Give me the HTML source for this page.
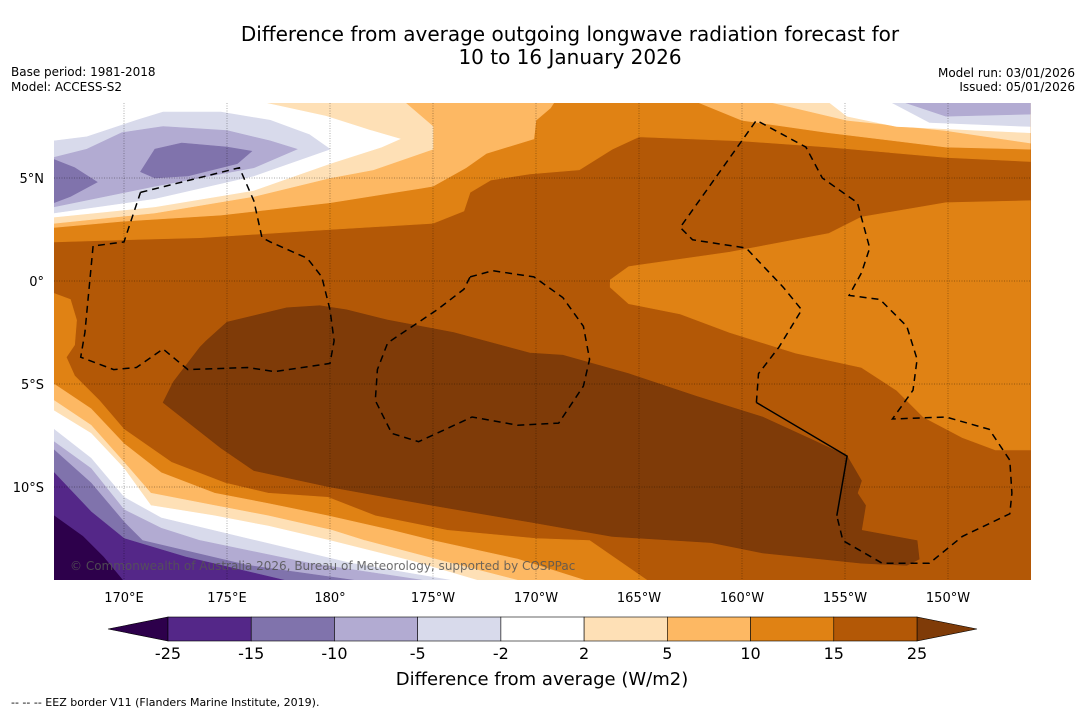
<!DOCTYPE html>
<html><head><meta charset="utf-8"><style>
body{margin:0;background:#fff;}
svg{display:block;font-family:"DejaVu Sans","Liberation Sans",sans-serif;}
</style></head><body>
<svg id="chart" width="1085" height="713" viewBox="0 0 1085 713">
<text x="570" y="41" text-anchor="middle" font-size="20" fill="#000">Difference from average outgoing longwave radiation forecast for</text>
<text x="570" y="64" text-anchor="middle" font-size="20" fill="#000">10 to 16 January 2026</text>
<text x="11" y="76" font-size="12">Base period: 1981-2018</text>
<text x="11" y="91" font-size="12">Model: ACCESS-S2</text>
<text x="1075" y="77" font-size="12" text-anchor="end">Model run: 03/01/2026</text>
<text x="1075" y="91" font-size="12" text-anchor="end">Issued: 05/01/2026</text>
<defs><clipPath id="mapclip"><rect x="54" y="103" width="977" height="477"/></clipPath></defs>
<g id="map" clip-path="url(#mapclip)"></g>
<g id="axes"></g>
<g id="cbar"></g>
<text x="542" y="685" text-anchor="middle" font-size="18">Difference from average (W/m2)</text>
<text x="11" y="706" font-size="11">--  --  -- EEZ border V11 (Flanders Marine Institute, 2019).</text>
</svg>
<script>
// ---- data (lon in degrees east 0-360, lat in degrees) ----
const lonTicks = [170,175,180,185,190,195,200,205,210];
const lonTickLabels = ["170°E","175°E","180°","175°W","170°W","165°W","160°W","155°W","150°W"];
const latTicks = [5,0,-5,-10];
const latTickLabels = ["5°N","0°","5°S","10°S"];
const levels = ["-25","-15","-10","-5","-2","2","5","10","15","25"];
const bandColors = ["#542788","#8073ac","#b2abd2","#d8daeb","#ffffff","#fee0b6","#fdb863","#e08214","#b35806"];
const lowColor = "#2d004b", highColor = "#7f3b08";

const topOrange = [[166.6,1.9],[170.0,2.0],[173.7,2.1],[180.0,2.5],[185.0,2.8],[186.5,3.4],[186.8,4.3],[187.8,4.9],[189.7,5.2],[192.1,5.4],[193.7,6.4],[195.0,7.0],[200.0,6.8],[204.2,6.5],[209.9,6.0],[214.0,5.8],[214.0,8.7],[166.6,8.7]];
const left5to10 = [[166.6,2.6],[169.9,2.9],[174.7,3.2],[180.0,3.8],[184.4,4.5],[185.0,4.6],[186.6,5.5],[187.6,6.2],[189.9,6.9],[190.0,7.8],[190.7,8.4],[190.9,8.7],[166.6,8.7]];
const left2to5 = [[166.6,2.8],[171.5,3.3],[176.3,4.1],[180.0,5.0],[182.1,5.4],[185.0,6.4],[185.0,7.5],[183.6,8.7],[166.6,8.7]];
const leftWhite = [[166.6,3.1],[171.5,3.6],[176.3,4.4],[180.0,5.7],[182.5,6.5],[183.4,6.9],[182.0,7.3],[179.8,8.0],[176.6,8.7],[166.6,8.7]];
const leftM2 = [[166.6,6.8],[168.2,7.0],[170.6,7.8],[171.9,8.2],[174.7,8.2],[177.1,7.8],[179.0,7.1],[180.0,6.4],[176.3,5.1],[171.5,4.0],[166.6,3.3]];
const leftM5 = [[166.6,6.0],[168.2,6.4],[169.9,7.2],[171.9,7.5],[175.0,7.3],[177.1,6.8],[178.4,6.4],[176.3,5.5],[171.5,4.6],[166.6,3.6]];
const leftM10a = [[166.6,5.9],[167.6,5.5],[168.7,4.8],[167.4,4.1],[166.6,3.8]];
const leftM10b = [[170.8,5.3],[171.5,6.4],[172.8,6.7],[175.0,6.5],[176.2,6.3],[175.5,5.7],[173.1,5.1],[171.5,5.0]];
const rightTop5 = [[197.8,8.7],[200.0,7.8],[204.2,7.2],[209.9,6.5],[214.0,6.4],[214.0,8.7]];
const rightTop2 = [[201.3,8.7],[205.1,7.8],[209.9,7.3],[214.0,6.7],[214.0,8.7]];
const rightTopW = [[204.2,8.7],[205.1,8.0],[207.5,7.5],[214.0,7.2],[214.0,8.7]];
const rightTopM2 = [[207.2,8.7],[209.1,7.7],[214.0,7.5],[214.0,8.7]];
const rightTopM5 = [[207.8,8.7],[209.9,8.0],[214.0,8.1],[214.0,8.7]];
const midRightOrange = [[193.6,0.05],[194.5,0.7],[199.4,1.4],[204.2,2.3],[205.8,3.1],[209.9,3.8],[214.0,3.9],[214.0,-8.2],[212.3,-8.2],[210.7,-7.6],[208.8,-6.6],[207.5,-5.3],[205.8,-4.2],[202.6,-3.5],[199.4,-2.5],[197.0,-1.6],[194.5,-1.1],[193.6,-0.3]];
const darkCore = [[173.7,-3.2],[174.0,-2.9],[175.0,-2.0],[177.9,-1.3],[179.5,-1.2],[180.8,-1.4],[182.8,-1.9],[186.0,-2.5],[189.7,-3.5],[191.3,-3.6],[194.5,-4.5],[197.8,-5.6],[201.0,-6.6],[203.4,-7.7],[205.1,-8.5],[205.8,-9.7],[205.6,-10.3],[206.0,-10.9],[205.8,-12.1],[208.5,-12.6],[208.6,-13.5],[208.0,-13.8],[205.8,-13.7],[201.0,-13.2],[198.5,-12.7],[193.7,-12.4],[189.7,-11.7],[185.0,-10.9],[180.0,-10.0],[176.3,-9.2],[174.7,-8.1],[171.9,-5.9],[172.4,-4.9]];
const sw10 = [[166.6,-0.6],[167.4,-0.9],[167.7,-1.9],[167.6,-3.1],[167.2,-3.7],[167.6,-4.6],[168.8,-5.8],[170.0,-7.2],[172.3,-8.8],[174.9,-9.8],[177.0,-10.3],[179.9,-10.5],[182.2,-11.4],[185.7,-12.1],[190.0,-12.5],[192.6,-12.6],[195.5,-14.6]];
const sw5 = [[166.6,-5.0],[168.4,-6.2],[170.0,-7.9],[171.8,-9.3],[174.4,-10.3],[177.0,-10.8],[179.9,-11.4],[183.0,-12.1],[185.0,-12.6],[189.1,-13.5],[192.6,-14.6]];
const sw2 = [[166.6,-5.8],[168.4,-7.0],[170.0,-8.8],[171.3,-10.3],[174.4,-10.9],[177.0,-11.4],[180.1,-12.1],[181.7,-12.6],[185.5,-13.6],[189.4,-14.6]];
const swW = [[166.6,-6.3],[168.4,-7.4],[170.0,-9.1],[171.3,-10.9],[174.4,-11.4],[177.0,-11.9],[180.0,-12.6],[184.0,-13.6],[187.4,-14.6]];
const swM2 = [[166.6,-7.2],[168.4,-8.6],[170.0,-10.5],[171.8,-11.5],[176.4,-12.6],[181.0,-13.7],[186.3,-14.6]];
const swM5 = [[166.6,-7.8],[168.4,-9.1],[170.0,-11.1],[171.8,-12.0],[173.7,-12.6],[179.0,-13.7],[185.0,-14.6]];
const swM10 = [[166.6,-8.2],[168.4,-9.8],[170.0,-11.7],[170.9,-12.6],[176.0,-13.8],[181.7,-14.6]];
const swM15 = [[166.6,-9.3],[168.4,-11.2],[170.0,-12.5],[173.0,-13.4],[178.1,-14.6]];
const swM25 = [[166.6,-11.4],[168.0,-12.4],[169.0,-13.4],[170.0,-14.6]];
const eez1 = [[170.8,4.3],[175.2,5.4],[175.6,5.5],[176.3,3.9],[176.7,2.1],[177.1,1.9],[178.9,1.1],[179.6,0.2],[180.0,-1.4],[180.2,-2.9],[180.0,-4.0],[177.3,-4.4],[176.0,-4.2],[173.1,-4.3],[171.9,-3.3],[170.6,-4.2],[169.5,-4.3],[167.9,-3.7],[168.1,-2.5],[168.5,1.7],[170.0,1.9],[170.8,4.3]];
const eez2 = [[186.8,0.2],[187.9,0.5],[189.9,0.2],[191.3,-0.8],[192.3,-2.2],[192.6,-3.8],[192.3,-5.1],[191.1,-6.9],[189.1,-7.0],[186.9,-6.6],[184.3,-7.8],[183.0,-7.4],[182.2,-5.8],[182.3,-4.3],[182.8,-3.0],[185.2,-1.4],[186.5,-0.4],[186.8,0.2]];
const eez3a = [[200.7,-5.9],[200.8,-4.5],[201.8,-3.2],[202.9,-1.4],[202.0,-0.3],[200.2,1.6],[197.6,2.0],[197.0,2.6],[200.7,7.8],[203.1,6.5],[203.9,5.0],[205.6,3.8],[206.2,1.6],[205.8,0.4],[205.2,-0.7],[206.7,-0.9],[208.0,-2.2],[208.5,-3.8],[208.3,-5.3],[207.3,-6.7],[209.9,-6.6],[212.0,-7.2],[213.0,-8.7],[213.1,-10.3],[213.0,-11.3],[210.7,-12.4],[209.1,-13.7],[206.8,-13.7],[204.9,-12.6],[204.6,-11.4]];
const eez3solid = [[204.6,-11.4],[205.1,-8.5],[200.7,-5.9]];

// ---- projection ----
const X0=124, LON0=170, Y0=281, PPD=20.6;
const xs = lon => X0 + (lon-LON0)*PPD;
const ys = lat => Y0 - lat*PPD;
const NS="http://www.w3.org/2000/svg";
const map=document.getElementById('map');
const pts = arr => arr.map(p=>xs(p[0]).toFixed(1)+","+ys(p[1]).toFixed(1)).join(" ");

const bg=document.createElementNS(NS,'rect');
bg.setAttribute('x',54);bg.setAttribute('y',103);bg.setAttribute('width',977);bg.setAttribute('height',477);bg.setAttribute('fill','#b35806');


map.appendChild(bg);

function band(arr,color,name,closeSW){
  let a=arr;
  if(closeSW){a=arr.concat([[166.0,-15],[166.0,arr[0][1]]]);}
  const p=document.createElementNS(NS,'polygon');
  p.setAttribute('points',pts(a));
  p.setAttribute('fill',color);
  p.setAttribute('stroke',color);
  p.setAttribute('stroke-width','0.6');
  
  
  map.appendChild(p);
}
band(topOrange,"#e08214","band-10-15-north");
band(left5to10,"#fdb863","band-5-10-northwest");
band(left2to5,"#fee0b6","band-2-5-northwest");
band(leftWhite,"#ffffff","band-neutral-northwest");
band(leftM2,"#d8daeb","band-m2-m5-northwest");
band(leftM5,"#b2abd2","band-m5-m10-northwest");
band(leftM10a,"#8073ac","band-m10-m15-northwest-a");
band(leftM10b,"#8073ac","band-m10-m15-northwest-b");
band(rightTop5,"#fdb863","band-5-10-northeast");
band(rightTop2,"#fee0b6","band-2-5-northeast");
band(rightTopW,"#ffffff","band-neutral-northeast");
band(rightTopM2,"#d8daeb","band-m2-m5-northeast");
band(rightTopM5,"#b2abd2","band-m5-m10-northeast");
band(midRightOrange,"#e08214","band-10-15-east");
band(sw10,"#e08214","band-10-15-southwest",true);
band(sw5,"#fdb863","band-5-10-southwest",true);
band(sw2,"#fee0b6","band-2-5-southwest",true);
band(swW,"#ffffff","band-neutral-southwest",true);
band(swM2,"#d8daeb","band-m2-m5-southwest",true);
band(swM5,"#b2abd2","band-m5-m10-southwest",true);
band(swM10,"#8073ac","band-m10-m15-southwest",true);
band(swM15,"#542788","band-m15-m25-southwest",true);
band(swM25,"#2d004b","band-below-m25-southwest",true);
band(darkCore,"#7f3b08","band-above-25-core");

// gridlines
lonTicks.forEach(l=>{
  const g=document.createElementNS(NS,'line');
  g.setAttribute('x1',xs(l));g.setAttribute('x2',xs(l));g.setAttribute('y1',103);g.setAttribute('y2',580);
  g.setAttribute('stroke','#000');g.setAttribute('stroke-opacity','0.45');g.setAttribute('stroke-width','0.7');g.setAttribute('stroke-dasharray','1,1.5');
  
  
  map.appendChild(g);
});
latTicks.forEach(l=>{
  const g=document.createElementNS(NS,'line');
  g.setAttribute('y1',ys(l));g.setAttribute('y2',ys(l));g.setAttribute('x1',54);g.setAttribute('x2',1031);
  g.setAttribute('stroke','#000');g.setAttribute('stroke-opacity','0.45');g.setAttribute('stroke-width','0.7');g.setAttribute('stroke-dasharray','1,1.5');
  
  
  map.appendChild(g);
});

function eez(arr,dashed,name){
  const p=document.createElementNS(NS,'polyline');
  p.setAttribute('points',pts(arr));
  p.setAttribute('fill','none');p.setAttribute('stroke','#000');p.setAttribute('stroke-width','1.5');
  if(dashed)p.setAttribute('stroke-dasharray','7,5');
  
  
  map.appendChild(p);
}
eez(eez1,true,"eez-border-tuvalu");
eez(eez2,true,"eez-border-phoenix");
eez(eez3a,true,"eez-border-line-islands");
eez(eez3solid,false,"eez-border-solid-segment");

const cr=document.createElementNS(NS,'text');
cr.setAttribute('x',70);cr.setAttribute('y',570);cr.setAttribute('font-size','12');cr.setAttribute('fill','#555');cr.setAttribute('fill-opacity','0.85');
cr.textContent="© Commonwealth of Australia 2026, Bureau of Meteorology, supported by COSPPac";


map.appendChild(cr);

// axis labels
const axes=document.getElementById('axes');
lonTicks.forEach((l,i)=>{
  const t=document.createElementNS(NS,'text');
  t.setAttribute('x',xs(l));t.setAttribute('y',602);t.setAttribute('text-anchor','middle');t.setAttribute('font-size','13');
  t.textContent=lonTickLabels[i];
  
  
  axes.appendChild(t);
});
latTicks.forEach((l,i)=>{
  const t=document.createElementNS(NS,'text');
  t.setAttribute('x',44);t.setAttribute('y',ys(l)+5);t.setAttribute('text-anchor','end');t.setAttribute('font-size','13');
  t.textContent=latTickLabels[i];
  
  
  axes.appendChild(t);
});

// colorbar
const cb=document.getElementById('cbar');
const cbX0=168, cbX1=917, cbY=617, cbH=24;
const bw=(cbX1-cbX0)/bandColors.length;
const lt=document.createElementNS(NS,'polygon');
lt.setAttribute('points',`${cbX0},${cbY} ${cbX0},${cbY+cbH} 108,${cbY+cbH/2}`);lt.setAttribute('fill',lowColor);lt.setAttribute('stroke','#000');lt.setAttribute('stroke-width','0.6');


cb.appendChild(lt);
const rt=document.createElementNS(NS,'polygon');
rt.setAttribute('points',`${cbX1},${cbY} ${cbX1},${cbY+cbH} 977,${cbY+cbH/2}`);rt.setAttribute('fill',highColor);rt.setAttribute('stroke','#000');rt.setAttribute('stroke-width','0.6');


cb.appendChild(rt);
bandColors.forEach((c,i)=>{
  const r=document.createElementNS(NS,'rect');
  r.setAttribute('x',cbX0+i*bw);r.setAttribute('y',cbY);r.setAttribute('width',bw);r.setAttribute('height',cbH);
  r.setAttribute('fill',c);r.setAttribute('stroke','#000');r.setAttribute('stroke-width','0.6');
  
  
  cb.appendChild(r);
});
levels.forEach((lv,i)=>{
  const t=document.createElementNS(NS,'text');
  t.setAttribute('x',cbX0+i*bw);t.setAttribute('y',659);t.setAttribute('text-anchor','middle');t.setAttribute('font-size','16');
  t.textContent=lv;
  
  
  cb.appendChild(t);
});
</script>
</body></html>
